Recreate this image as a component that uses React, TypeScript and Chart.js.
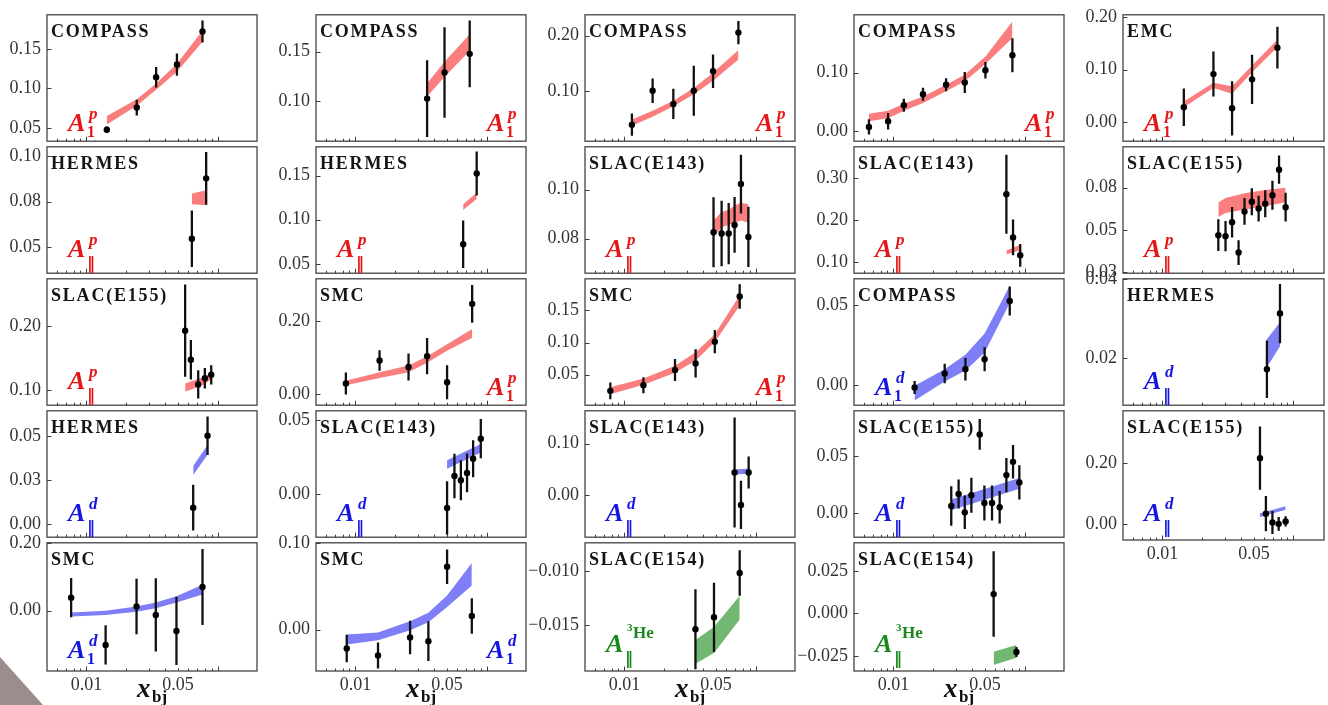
import React, { useEffect, useRef } from 'react';
import { Chart, registerables } from 'chart.js';
Chart.register(...registerables);

// ---------------- data ----------------
// row 1
const r1c1X = [0.0143, 0.0242, 0.034, 0.049, 0.0768];
const r1c1Y = [0.0476, 0.0756, 0.1139, 0.13, 0.1719];
const r1c1E = [0.004, 0.01, 0.013, 0.014, 0.014];
const r1c1Lo = [0.054, 0.078, 0.098, 0.121, 0.159];
const r1c1Hi = [0.065, 0.086, 0.106, 0.131, 0.173];
const r1c1YT = [0.05, 0.1, 0.15];
const r1c1YL = ['0.05', '0.10', '0.15'];

const r1c2X = [0.0352, 0.0478, 0.0744];
const r1c2Y = [0.1022, 0.1288, 0.1478];
const r1c2E = [0.039, 0.046, 0.034];
const r1c2Lo = [0.1044, 0.1243, 0.1509];
const r1c2Hi = [0.1177, 0.1398, 0.1677];
const r1c2YT = [0.1, 0.15];
const r1c2YL = ['0.10', '0.15'];

const r1c3X = [0.0114, 0.0164, 0.0236, 0.0338, 0.0474, 0.074];
const r1c3Y = [0.0398, 0.1008, 0.0773, 0.1008, 0.136, 0.2055];
const r1c3E = [0.02, 0.022, 0.027, 0.045, 0.03, 0.021];
const r1c3Lo = [0.038, 0.054, 0.073, 0.0945, 0.119, 0.157];
const r1c3Hi = [0.049, 0.065, 0.083, 0.106, 0.1335, 0.174];
const r1c3YT = [0.1, 0.2];
const r1c3YL = ['0.10', '0.20'];

const r1c4X = [0.0065, 0.0091, 0.012, 0.0168, 0.0252, 0.035, 0.0503, 0.0808];
const r1c4Y = [0.0074, 0.017, 0.0444, 0.063, 0.0793, 0.083, 0.104, 0.1296];
const r1c4E = [0.013, 0.014, 0.011, 0.011, 0.011, 0.018, 0.014, 0.029];
const r1c4Lo = [0.017, 0.0222, 0.0348, 0.048, 0.068, 0.085, 0.1148, 0.159];
const r1c4Hi = [0.0296, 0.0348, 0.0467, 0.0593, 0.0793, 0.0963, 0.1274, 0.187];
const r1c4YT = [0, 0.1];
const r1c4YL = ['0.00', '0.10'];

const r1c5X = [0.01456, 0.0245, 0.034, 0.0483, 0.0754];
const r1c5Y = [0.028, 0.0915, 0.026, 0.0814, 0.142];
const r1c5E = [0.036, 0.043, 0.052, 0.047, 0.04];
const r1c5Lo = [0.028, 0.065, 0.054, 0.095, 0.143];
const r1c5Hi = [0.039, 0.075, 0.068, 0.108, 0.157];
const r1c5YT = [0, 0.1, 0.2];
const r1c5YL = ['0.00', '0.10', '0.20'];

// row 2
const r2c1X = [0.0637, 0.0819];
const r2c1Y = [0.0546, 0.0879];
const r2c1E = [0.0156, 0.0145];
const r2c1Lo = [0.0736, 0.0731];
const r2c1Hi = [0.0796, 0.0813];
const r2c1YT = [0.05, 0.075, 0.1];
const r2c1YL = ['0.05', '0.08', '0.10'];

const r2c2X = [0.0663, 0.0841];
const r2c2Y = [0.0722, 0.1524];
const r2c2E = [0.027, 0.025];
const r2c2Lo = [0.111, 0.1234];
const r2c2Hi = [0.1176, 0.1307];
const r2c2YT = [0.05, 0.1, 0.15];
const r2c2YL = ['0.05', '0.10', '0.15'];

const r2c3X = [0.0478, 0.0551, 0.0624, 0.0692, 0.0774, 0.0882];
const r2c3Y = [0.0826, 0.0821, 0.0821, 0.0856, 0.1023, 0.0807];
const r2c3E = [0.0143, 0.0134, 0.0125, 0.0114, 0.012, 0.0123];
const r2c3Lo = [0.0807, 0.0847, 0.0856, 0.0865, 0.0874, 0.0865];
const r2c3Hi = [0.0874, 0.0909, 0.0918, 0.0935, 0.0947, 0.094];
const r2c3YT = [0.08, 0.1];
const r2c3YL = ['0.08', '0.10'];

const r2c4X = [0.0727, 0.0817, 0.0927];
const r2c4Y = [0.261, 0.158, 0.1154];
const r2c4E = [0.094, 0.0425, 0.027];
const r2c4Lo = [0.1174, 0.122, 0.1277];
const r2c4Hi = [0.1277, 0.133, 0.141];
const r2c4YT = [0.1, 0.2, 0.3];
const r2c4YL = ['0.10', '0.20', '0.30'];

const r2c5X = [0.0267, 0.0303, 0.034, 0.0381, 0.0423, 0.0481, 0.0542, 0.0609, 0.0691, 0.0776, 0.0871];
const r2c5Y = [0.047, 0.0464, 0.0546, 0.0367, 0.061, 0.0667, 0.0627, 0.0655, 0.0706, 0.0857, 0.0635];
const r2c5E = [0.0094, 0.0089, 0.009, 0.0073, 0.0079, 0.008, 0.0076, 0.008, 0.0086, 0.0083, 0.0085];
const r2c5BX = [0.0267, 0.0303, 0.0423, 0.0609, 0.0871];
const r2c5Lo = [0.0577, 0.0601, 0.0621, 0.0641, 0.0665];
const r2c5Hi = [0.0663, 0.069, 0.0718, 0.0736, 0.075];
const r2c5YT = [0.025, 0.05, 0.075];
const r2c5YL = ['0.03', '0.05', '0.08'];

// row 3
const r3c1X = [0.0566, 0.0626, 0.0712, 0.08, 0.0895];
const r3c1Y = [0.1925, 0.147, 0.1085, 0.118, 0.1235];
const r3c1E = [0.072, 0.031, 0.022, 0.016, 0.015];
const r3c1Lo = [0.0975, 0.1, 0.105, 0.109, 0.117];
const r3c1Hi = [0.11, 0.113, 0.117, 0.121, 0.1275];
const r3c1YT = [0.1, 0.2];
const r3c1YL = ['0.10', '0.20'];

const r3c2X = [0.00845, 0.01527, 0.0254, 0.0352, 0.05, 0.0777];
const r3c2Y = [0.0287, 0.092, 0.0743, 0.104, 0.0323, 0.248];
const r3c2E = [0.03, 0.028, 0.037, 0.05, 0.047, 0.052];
const r3c2Lo = [0.024, 0.044, 0.06, 0.086, 0.119, 0.155];
const r3c2Hi = [0.036, 0.06, 0.078, 0.104, 0.137, 0.179];
const r3c2YT = [0, 0.2];
const r3c2YL = ['0.00', '0.20'];

const r3c3X = [0.0078, 0.01395, 0.0243, 0.0349, 0.0489, 0.0757];
const r3c3Y = [0.025, 0.0338, 0.0574, 0.0676, 0.1014, 0.1716];
const r3c3E = [0.013, 0.0125, 0.017, 0.022, 0.018, 0.019];
const r3c3Lo = [0.0196, 0.0345, 0.053, 0.072, 0.101, 0.157];
const r3c3Hi = [0.0304, 0.044, 0.064, 0.085, 0.113, 0.1736];
const r3c3YT = [0.05, 0.1, 0.15];
const r3c3YL = ['0.05', '0.10', '0.15'];

const r3c4X = [0.0145, 0.0246, 0.0354, 0.0496, 0.0771];
const r3c4Y = [-0.0014, 0.0073, 0.01, 0.0162, 0.0524];
const r3c4E = [0.004, 0.006, 0.007, 0.0075, 0.009];
const r3c4Lo = [-0.0095, 0.0024, 0.0092, 0.0203, 0.0511];
const r3c4Hi = [-0.0003, 0.01, 0.0189, 0.0322, 0.0619];
const r3c4YT = [0, 0.05];
const r3c4YL = ['0.00', '0.05'];

const r3c5X = [0.0627, 0.0789];
const r3c5Y = [0.0172, 0.0313];
const r3c5E = [0.0073, 0.0075];
const r3c5Lo = [0.0177, 0.023];
const r3c5Hi = [0.0248, 0.0291];
const r3c5YT = [0.02, 0.04];
const r3c5YL = ['0.02', '0.04'];

// row 4
const r4c1X = [0.0652, 0.0839];
const r4c1Y = [0.0095, 0.0504];
const r4c1E = [0.013, 0.011];
const r4c1Lo = [0.0281, 0.0396];
const r4c1Hi = [0.0332, 0.0451];
const r4c1YT = [0, 0.025, 0.05];
const r4c1YL = ['0.00', '0.03', '0.05'];

const r4c2X = [0.05, 0.0569, 0.0637, 0.071, 0.079, 0.0904];
const r4c2Y = [-0.0092, 0.0124, 0.0095, 0.0145, 0.024, 0.0376];
const r4c2E = [0.018, 0.015, 0.0135, 0.013, 0.0125, 0.0133];
const r4c2BX = [0.05, 0.0904];
const r4c2Lo = [0.0173, 0.0283];
const r4c2Hi = [0.0231, 0.034];
const r4c2YT = [0, 0.05];
const r4c2YL = ['0.00', '0.05'];

const r4c3X = [0.0692, 0.0774, 0.0886];
const r4c3Y = [0.0442, -0.019, 0.0442];
const r4c3E = [0.107, 0.047, 0.031];
const r4c3BX = [0.0692, 0.0886];
const r4c3Lo = [0.04, 0.0417];
const r4c3Hi = [0.05, 0.0517];
const r4c3YT = [0, 0.1];
const r4c3YL = ['0.00', '0.10'];

const r4c4X = [0.0276, 0.0314, 0.035, 0.0393, 0.0455, 0.0494, 0.0565, 0.0646, 0.0727, 0.0817, 0.0913];
const r4c4Y = [0.006, 0.0165, 0.0004, 0.0154, 0.0688, 0.0086, 0.0086, 0.0049, 0.0331, 0.0447, 0.0267];
const r4c4E = [0.0173, 0.0128, 0.0147, 0.0154, 0.0135, 0.0154, 0.0154, 0.0143, 0.015, 0.0147, 0.015];
const r4c4BX = [0.0276, 0.0913];
const r4c4Lo = [0.0023, 0.0211];
const r4c4Hi = [0.0117, 0.0305];
const r4c4YT = [0, 0.05];
const r4c4YL = ['0.00', '0.05'];

const r4c5X = [0.0555, 0.0616, 0.0691, 0.0771, 0.0871];
const r4c5Y = [0.2174, 0.0337, 0.0047, 0.0, 0.008];
const r4c5E = [0.105, 0.058, 0.038, 0.023, 0.017];
const r4c5BX = [0.0555, 0.0871];
const r4c5Lo = [0.023, 0.0465];
const r4c5Hi = [0.035, 0.058];
const r4c5YT = [0, 0.2];
const r4c5YL = ['0.00', '0.20'];

// row 5
const r5c1X = [0.00764, 0.014, 0.0241, 0.0338, 0.0486, 0.0768];
const r5c1Y = [0.0385, -0.101, 0.0125, -0.0125, -0.0596, 0.07];
const r5c1E = [0.058, 0.058, 0.082, 0.108, 0.101, 0.112];
const r5c1Lo = [-0.017, -0.0125, -0.003, 0.007, 0.024, 0.048];
const r5c1Hi = [-0.005, 0.0, 0.0125, 0.024, 0.043, 0.077];
const r5c1YT = [0, 0.2];
const r5c1YL = ['0.00', '0.20'];

const r5c2X = [0.00858, 0.01486, 0.0261, 0.036, 0.05, 0.0772];
const r5c2Y = [-0.022, -0.03, -0.0092, -0.0134, 0.0728, 0.0157];
const r5c2E = [0.016, 0.015, 0.0195, 0.023, 0.02, 0.0205];
const r5c2Lo = [-0.0172, -0.0123, -0.0008, 0.0085, 0.0261, 0.051];
const r5c2Hi = [-0.0057, -0.0034, 0.0096, 0.0195, 0.0395, 0.077];
const r5c2YT = [0, 0.1];
const r5c2YL = ['0.00', '0.10'];

const r5c3X = [0.0348, 0.0482, 0.0757];
const r5c3Y = [-0.0154, -0.0143, -0.0102];
const r5c3E = [0.0037, 0.0032, 0.0021];
const r5c3Lo = [-0.0186, -0.0176, -0.0145];
const r5c3Hi = [-0.0164, -0.0152, -0.0123];
const r5c3YT = [-0.015, -0.01];
const r5c3YL = ['\u22120.015', '\u22120.010'];

const r5c4X = [0.0581, 0.0867];
const r5c4Y = [0.0114, -0.0227];
const r5c4E = [0.0252, 0.003];
const r5c4Lo = [-0.0303, -0.0261];
const r5c4Hi = [-0.0225, -0.0186];
const r5c4YT = [-0.025, 0, 0.025];
const r5c4YL = ['\u22120.025', '0.000', '0.025'];

// x axis ticks
const X_TICKS = [0.01, 0.05];
const X_TICK_LABELS = ['0.01', '0.05'];
const X_MAJOR = [0.01, 0.1];
const X_MINOR = [0.006, 0.007, 0.008, 0.009, 0.02, 0.03, 0.04, 0.05, 0.06, 0.07, 0.08, 0.09];

// ---------------- layout ----------------
const COL_LEFT = [47, 316, 585, 854, 1123];
const COL_W = [212, 212, 212, 212, 203];
const ROW_TOP = [12, 144, 276, 408, 540];
const ROW_H = [132, 132, 132, 132, 131];
const X_MIN = 0.005;
const DEC_PX = 212 / Math.log10(0.2 / 0.005);
const LP = 72;
const TP = 14;
const RP = 2;

const FONT = "'Liberation Serif', 'DejaVu Serif', serif";
const COLORS: Record<string, { band: string; text: string }> = {
  p: { band: 'rgba(245, 20, 20, 0.55)', text: 'rgb(228, 22, 22)' },
  d: { band: 'rgba(20, 20, 240, 0.55)', text: 'rgb(22, 22, 225)' },
  he: { band: 'rgba(20, 135, 20, 0.6)', text: 'rgb(25, 135, 25)' },
};

type PanelCfg = {
  r: number; c: number; name: string; sub: '1' | 'par'; sup: 'p' | 'd' | 'he'; side: 'L' | 'R';
  x: number[]; y: number[]; e: number[]; bx: number[]; lo: number[]; hi: number[];
  ymin: number; ymax: number; yt: number[]; yl: string[]; xlab?: boolean;
};

const PANELS: PanelCfg[] = [
  { r: 0, c: 0, name: 'COMPASS', sub: '1', sup: 'p', side: 'L', x: r1c1X, y: r1c1Y, e: r1c1E, bx: r1c1X, lo: r1c1Lo, hi: r1c1Hi, ymin: 0.033, ymax: 0.193, yt: r1c1YT, yl: r1c1YL },
  { r: 0, c: 1, name: 'COMPASS', sub: '1', sup: 'p', side: 'R', x: r1c2X, y: r1c2Y, e: r1c2E, bx: r1c2X, lo: r1c2Lo, hi: r1c2Hi, ymin: 0.0588, ymax: 0.1876, yt: r1c2YT, yl: r1c2YL },
  { r: 0, c: 2, name: 'COMPASS', sub: '1', sup: 'p', side: 'R', x: r1c3X, y: r1c3Y, e: r1c3E, bx: r1c3X, lo: r1c3Lo, hi: r1c3Hi, ymin: 0.0102, ymax: 0.2375, yt: r1c3YT, yl: r1c3YL },
  { r: 0, c: 3, name: 'COMPASS', sub: '1', sup: 'p', side: 'R', x: r1c4X, y: r1c4Y, e: r1c4E, bx: r1c4X, lo: r1c4Lo, hi: r1c4Hi, ymin: -0.017, ymax: 0.1985, yt: r1c4YT, yl: r1c4YL },
  { r: 0, c: 4, name: 'EMC', sub: '1', sup: 'p', side: 'L', x: r1c5X, y: r1c5Y, e: r1c5E, bx: r1c5X, lo: r1c5Lo, hi: r1c5Hi, ymin: -0.037, ymax: 0.205, yt: r1c5YT, yl: r1c5YL },

  { r: 1, c: 0, name: 'HERMES', sub: 'par', sup: 'p', side: 'L', x: r2c1X, y: r2c1Y, e: r2c1E, bx: r2c1X, lo: r2c1Lo, hi: r2c1Hi, ymin: 0.0356, ymax: 0.1053, yt: r2c1YT, yl: r2c1YL },
  { r: 1, c: 1, name: 'HERMES', sub: 'par', sup: 'p', side: 'L', x: r2c2X, y: r2c2Y, e: r2c2E, bx: r2c2X, lo: r2c2Lo, hi: r2c2Hi, ymin: 0.0393, ymax: 0.1827, yt: r2c2YT, yl: r2c2YL },
  { r: 1, c: 2, name: 'SLAC(E143)', sub: 'par', sup: 'p', side: 'L', x: r2c3X, y: r2c3Y, e: r2c3E, bx: r2c3X, lo: r2c3Lo, hi: r2c3Hi, ymin: 0.0659, ymax: 0.1175, yt: r2c3YT, yl: r2c3YL },
  { r: 1, c: 3, name: 'SLAC(E143)', sub: 'par', sup: 'p', side: 'L', x: r2c4X, y: r2c4Y, e: r2c4E, bx: r2c4X, lo: r2c4Lo, hi: r2c4Hi, ymin: 0.0728, ymax: 0.3738, yt: r2c4YT, yl: r2c4YL },
  { r: 1, c: 4, name: 'SLAC(E155)', sub: 'par', sup: 'p', side: 'L', x: r2c5X, y: r2c5Y, e: r2c5E, bx: r2c5BX, lo: r2c5Lo, hi: r2c5Hi, ymin: 0.0245, ymax: 0.0992, yt: r2c5YT, yl: r2c5YL },

  { r: 2, c: 0, name: 'SLAC(E155)', sub: 'par', sup: 'p', side: 'L', x: r3c1X, y: r3c1Y, e: r3c1E, bx: r3c1X, lo: r3c1Lo, hi: r3c1Hi, ymin: 0.076, ymax: 0.2735, yt: r3c1YT, yl: r3c1YL },
  { r: 2, c: 1, name: 'SMC', sub: '1', sup: 'p', side: 'R', x: r3c2X, y: r3c2Y, e: r3c2E, bx: r3c2X, lo: r3c2Lo, hi: r3c2Hi, ymin: -0.031, ymax: 0.317, yt: r3c2YT, yl: r3c2YL },
  { r: 2, c: 2, name: 'SMC', sub: '1', sup: 'p', side: 'R', x: r3c3X, y: r3c3Y, e: r3c3E, bx: r3c3X, lo: r3c3Lo, hi: r3c3Hi, ymin: 0.0027, ymax: 0.199, yt: r3c3YT, yl: r3c3YL },
  { r: 2, c: 3, name: 'COMPASS', sub: '1', sup: 'd', side: 'L', x: r3c4X, y: r3c4Y, e: r3c4E, bx: r3c4X, lo: r3c4Lo, hi: r3c4Hi, ymin: -0.0124, ymax: 0.0662, yt: r3c4YT, yl: r3c4YL },
  { r: 2, c: 4, name: 'HERMES', sub: 'par', sup: 'd', side: 'L', x: r3c5X, y: r3c5Y, e: r3c5E, bx: r3c5X, lo: r3c5Lo, hi: r3c5Hi, ymin: 0.0081, ymax: 0.0401, yt: r3c5YT, yl: r3c5YL },

  { r: 3, c: 0, name: 'HERMES', sub: 'par', sup: 'd', side: 'L', x: r4c1X, y: r4c1Y, e: r4c1E, bx: r4c1X, lo: r4c1Lo, hi: r4c1Hi, ymin: -0.0073, ymax: 0.0646, yt: r4c1YT, yl: r4c1YL },
  { r: 3, c: 1, name: 'SLAC(E143)', sub: 'par', sup: 'd', side: 'L', x: r4c2X, y: r4c2Y, e: r4c2E, bx: r4c2BX, lo: r4c2Lo, hi: r4c2Hi, ymin: -0.0289, ymax: 0.0564, yt: r4c2YT, yl: r4c2YL },
  { r: 3, c: 2, name: 'SLAC(E143)', sub: 'par', sup: 'd', side: 'L', x: r4c3X, y: r4c3Y, e: r4c3E, bx: r4c3BX, lo: r4c3Lo, hi: r4c3Hi, ymin: -0.0817, ymax: 0.164, yt: r4c3YT, yl: r4c3YL },
  { r: 3, c: 3, name: 'SLAC(E155)', sub: 'par', sup: 'd', side: 'L', x: r4c4X, y: r4c4Y, e: r4c4E, bx: r4c4BX, lo: r4c4Lo, hi: r4c4Hi, ymin: -0.0214, ymax: 0.0895, yt: r4c4YT, yl: r4c4YL },
  { r: 3, c: 4, name: 'SLAC(E155)', sub: 'par', sup: 'd', side: 'L', x: r4c5X, y: r4c5Y, e: r4c5E, bx: r4c5BX, lo: r4c5Lo, hi: r4c5Hi, ymin: -0.0535, ymax: 0.374, yt: r4c5YT, yl: r4c5YL, xlab: true },

  { r: 4, c: 0, name: 'SMC', sub: '1', sup: 'd', side: 'L', x: r5c1X, y: r5c1Y, e: r5c1E, bx: r5c1X, lo: r5c1Lo, hi: r5c1Hi, ymin: -0.178, ymax: 0.2005, yt: r5c1YT, yl: r5c1YL, xlab: true },
  { r: 4, c: 1, name: 'SMC', sub: '1', sup: 'd', side: 'R', x: r5c2X, y: r5c2Y, e: r5c2E, bx: r5c2X, lo: r5c2Lo, hi: r5c2Hi, ymin: -0.048, ymax: 0.1005, yt: r5c2YT, yl: r5c2YL, xlab: true },
  { r: 4, c: 2, name: 'SLAC(E154)', sub: 'par', sup: 'he', side: 'L', x: r5c3X, y: r5c3Y, e: r5c3E, bx: r5c3X, lo: r5c3Lo, hi: r5c3Hi, ymin: -0.01927, ymax: -0.0074, yt: r5c3YT, yl: r5c3YL, xlab: true },
  { r: 4, c: 3, name: 'SLAC(E154)', sub: 'par', sup: 'he', side: 'L', x: r5c4X, y: r5c4Y, e: r5c4E, bx: r5c4X, lo: r5c4Lo, hi: r5c4Hi, ymin: -0.0339, ymax: 0.0416, yt: r5c4YT, yl: r5c4YL, xlab: true },
];

const framePlugin = {
  id: 'frame',
  afterDraw(chart: any) {
    const { ctx, chartArea } = chart;
    const { left, top, right, bottom } = chartArea;
    const xs = chart.scales.x;
    const ys = chart.scales.y;
    ctx.save();
    ctx.strokeStyle = '#3c3c3c';
    ctx.lineWidth = 1;
    const tick = (x1: number, y1: number, x2: number, y2: number) => {
      ctx.beginPath();
      ctx.moveTo(x1, y1);
      ctx.lineTo(x2, y2);
      ctx.stroke();
    };
    for (const v of X_MINOR) {
      if (v > xs.min && v < xs.max) {
        const px = Math.round(xs.getPixelForValue(v)) + 0.5;
        tick(px, bottom, px, bottom - 2.5);
      }
    }
    for (const v of X_MAJOR) {
      if (v > xs.min && v < xs.max) {
        const px = Math.round(xs.getPixelForValue(v)) + 0.5;
        tick(px, bottom, px, bottom - 4.5);
      }
    }
    for (const t of ys.ticks) {
      const py = Math.round(ys.getPixelForValue(t.value)) + 0.5;
      if (py >= top && py <= bottom) tick(left, py, left + 4.5, py);
    }
    ctx.lineWidth = 1.3;
    ctx.strokeStyle = '#444';
    ctx.strokeRect(left, top, right - left, bottom - top);
    ctx.restore();
  },
};

function PanelChart({ p }: { p: PanelCfg }) {
  const ref = useRef<HTMLCanvasElement>(null);
  const W = COL_W[p.c];
  const H = ROW_H[p.r];
  const BP = p.xlab ? 30 : 0;
  const PB = p.xlab ? 0 : 14;
  const cw = LP + W + RP;
  const ch = TP + H + BP + PB;
  const xmax = X_MIN * Math.pow(10, W / DEC_PX);

  useEffect(() => {
    const col = COLORS[p.sup];
    const errData: any[] = [];
    p.x.forEach((x, i) => {
      errData.push({ x, y: p.y[i] - p.e[i] });
      errData.push({ x, y: p.y[i] + p.e[i] });
      errData.push({ x, y: null });
    });
    const tickFont = { family: FONT, size: 18 };
    const chart = new Chart(ref.current as HTMLCanvasElement, {
      type: 'line',
      data: {
        datasets: [
          {
            data: p.bx.map((x, i) => ({ x, y: p.lo[i] })),
            borderColor: 'transparent', borderWidth: 0, pointRadius: 0, fill: false, order: 3, tension: 0,
          },
          {
            data: p.bx.map((x, i) => ({ x, y: p.hi[i] })),
            borderColor: 'transparent', borderWidth: 0, pointRadius: 0, fill: '-1', backgroundColor: col.band, order: 3, tension: 0,
          },
          {
            data: errData,
            borderColor: '#111', borderWidth: 2.3, pointRadius: 0, spanGaps: false, fill: false, order: 1, borderCapStyle: 'butt',
          },
          {
            data: p.x.map((x, i) => ({ x, y: p.y[i] })),
            showLine: false, pointRadius: 3.2, pointBackgroundColor: '#000', pointBorderColor: '#000', pointBorderWidth: 0, fill: false, order: 0,
          },
        ] as any,
      },
      options: {
        responsive: false,
        maintainAspectRatio: false,
        animation: false,
        events: [],
        layout: { padding: { left: 0, top: TP, right: RP, bottom: PB } },
        plugins: { legend: { display: false }, tooltip: { enabled: false } },
        scales: {
          x: {
            type: 'logarithmic',
            display: !!p.xlab,
            min: X_MIN,
            max: xmax,
            bounds: 'data',
            afterBuildTicks: (s: any) => { s.ticks = X_TICKS.map((v) => ({ value: v })); },
            afterFit: (s: any) => { s.height = BP; },
            grid: { display: false, drawTicks: false, tickLength: 0 },
            border: { display: false },
            ticks: {
              autoSkip: false, maxRotation: 0, minRotation: 0, padding: 3, color: '#333', font: tickFont,
              callback: (_v: any, i: number) => X_TICK_LABELS[i],
            },
          },
          y: {
            type: 'linear',
            min: p.ymin,
            max: p.ymax,
            bounds: 'data',
            afterBuildTicks: (s: any) => { s.ticks = p.yt.map((v) => ({ value: v })); },
            afterFit: (s: any) => { s.width = LP; },
            grid: { display: false, drawTicks: false, tickLength: 0 },
            border: { display: false },
            ticks: {
              autoSkip: false, padding: 6, color: '#333', font: tickFont,
              callback: (_v: any, i: number) => p.yl[i],
            },
          },
        },
      } as any,
      plugins: [framePlugin],
    });
    return () => chart.destroy();
  }, []);

  return (
    <canvas
      ref={ref}
      width={cw}
      height={ch}
      style={{ position: 'absolute', left: COL_LEFT[p.c] - LP, top: ROW_TOP[p.r] - TP, width: cw, height: ch }}
    />
  );
}

function txt(left: number, baseline: number, size: number, extra: React.CSSProperties, content: string, key: string) {
  return (
    <span
      key={key}
      style={{
        position: 'absolute', left, top: baseline - 0.84 * size, fontSize: size, lineHeight: `${size}px`,
        fontFamily: FONT, whiteSpace: 'nowrap', ...extra,
      }}
    >
      {content}
    </span>
  );
}

function PanelLabels({ p }: { p: PanelCfg }) {
  const L = COL_LEFT[p.c];
  const W = COL_W[p.c];
  const top = ROW_TOP[p.r];
  const B = top + ROW_H[p.r];
  const color = COLORS[p.sup].text;
  const ax = p.side === 'L' ? L + 21 : L + W - 41;
  const items: React.ReactNode[] = [];
  items.push(txt(L + 4, top + 25, 18, { fontWeight: 'bold', letterSpacing: '1.8px', color: '#151515' }, p.name, 'name'));
  const aBase = p.sub === '1' ? B - 12 : B - 18;
  items.push(txt(ax, aBase, 26, { fontWeight: 'bold', fontStyle: 'italic', color }, 'A', 'A'));
  if (p.sub === '1') {
    items.push(txt(ax + 19, B - 6.5, 16, { fontWeight: 'bold', color }, '1', 'sub'));
  } else {
    items.push(txt(ax + 19, B - 7, 16, { fontWeight: 'bold', color, fontFamily: "'DejaVu Serif', serif" }, '\u2016', 'sub'));
  }
  if (p.sup === 'he') {
    items.push(txt(ax + 21, B - 40, 11, { fontWeight: 'bold', color }, '3', 'sup3'));
    items.push(txt(ax + 27, B - 33, 17, { fontWeight: 'bold', color }, 'He', 'supHe'));
  } else {
    const supBase = p.sub === '1' ? B - 25 : B - 31;
    items.push(txt(ax + 21, supBase, 17, { fontWeight: 'bold', fontStyle: 'italic', color }, p.sup, 'sup'));
  }
  return <>{items}</>;
}

function XLabel({ c }: { c: number }) {
  const cx = COL_LEFT[c] + COL_W[c] / 2;
  return (
    <>
      {txt(cx - 16, 698, 27, { fontWeight: 'bold', fontStyle: 'italic', color: '#111' }, 'x', 'x')}
      {txt(cx - 1, 702, 17, { fontWeight: 'bold', color: '#111' }, 'bj', 'bj')}
    </>
  );
}

export default function App() {
  return (
    <div style={{ position: 'absolute', left: 0, top: 0, width: 1328, height: 705, overflow: 'hidden', background: '#fff' }}>
      <div
        style={{
          position: 'absolute', left: 0, top: 657, width: 43, height: 48, background: '#9c8c8c',
          clipPath: 'polygon(0 0, 100% 100%, 0 100%)',
        }}
      />
      {PANELS.map((p, i) => <PanelChart key={'c' + i} p={p} />)}
      {PANELS.map((p, i) => <PanelLabels key={'l' + i} p={p} />)}
      {[0, 1, 2, 3].map((c) => <XLabel key={'x' + c} c={c} />)}
    </div>
  );
}
